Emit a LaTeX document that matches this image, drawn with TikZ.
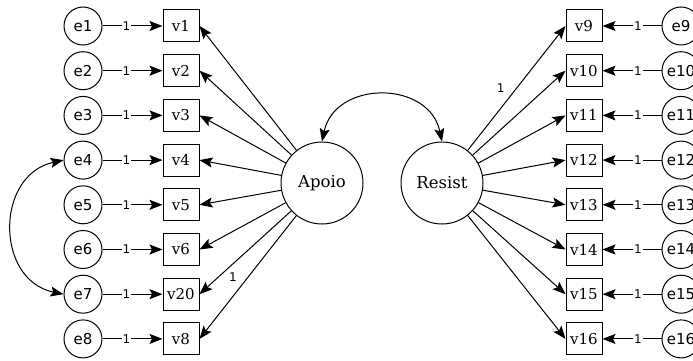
\documentclass[tikz,border=0pt]{standalone}
\usepackage{fontspec}
\setmainfont{DejaVu Serif}
\newfontfamily\efont{DejaVu Sans}
\usetikzlibrary{arrows.meta}
\begin{document}
\begin{tikzpicture}[x=1pt,y=-1pt,
  lat/.style={circle,draw,line width=1pt,minimum size=82pt,inner sep=0pt,font=\fontsize{16.5}{19}\selectfont},
  err/.style={circle,draw,line width=1pt,minimum size=38pt,inner sep=0pt,font=\efont\fontsize{15}{17}\selectfont},
  obs/.style={rectangle,draw,line width=1pt,minimum width=36pt,minimum height=32pt,inner sep=0pt,font=\fontsize{15}{17}\selectfont},
  arr/.style={line width=1pt,-{Stealth[length=13pt,width=10pt,inset=2.5pt]}},
  darr/.style={line width=1pt,{Stealth[length=13pt,width=10pt,inset=2.5pt]}-{Stealth[length=13pt,width=10pt,inset=2.5pt]}},
  wt/.style={fill=white,inner sep=1pt,font=\efont\fontsize{12}{14}\selectfont}
]
\useasboundingbox (0,0) rectangle (693,361);
\node[lat] (A) at (322,183) {Apoio};
\node[lat] (R) at (442,183) {Resist};
\foreach \i/\lab in {1/v1,2/v2,3/v3,4/v4,5/v5,6/v6,7/v20,8/v8} {
  \pgfmathsetmacro\yy{26+44.7*(\i-1)}
  \node[err] (e\i) at (83,\yy) {e\i};
  \node[obs] (L\i) at (181,\yy) {\lab};
  \draw[arr] (e\i) -- node[wt,pos=0.4]{1} (L\i);
}
\foreach \i/\lab in {1/v9,2/v10,3/v11,4/v12,5/v13,6/v14,7/v15,8/v16} {
  \pgfmathsetmacro\yy{26+44.7*(\i-1)}
  \pgfmathtruncatemacro\en{\i+8}
  \node[err] (e\en) at (681,\yy) {e\en};
  \node[obs] (R\i) at (584,\yy) {\lab};
  \draw[arr] (e\en) -- node[wt,pos=0.4]{1} (R\i);
}
\foreach \i in {1,...,7} {
  \draw[arr] (A) -- (L\i.east);
}
\draw[arr] (A) -- node[pos=0.5,xshift=-15pt,inner sep=0pt,font=\efont\fontsize{12}{14}\selectfont]{1} (L8.east);
\draw[arr] (R) -- node[pos=0.5,xshift=-16pt,inner sep=0pt,font=\efont\fontsize{12}{14}\selectfont]{1} (R1.west);
\foreach \i in {2,...,8} {
  \draw[arr] (R) -- (R\i.west);
}
\draw[darr] (A.north) .. controls (335,80) and (429,80) .. (R.north);
\draw[darr] (e4.west) .. controls (-5,175) and (-5,280) .. (e7.west);
\end{tikzpicture}
\end{document}
